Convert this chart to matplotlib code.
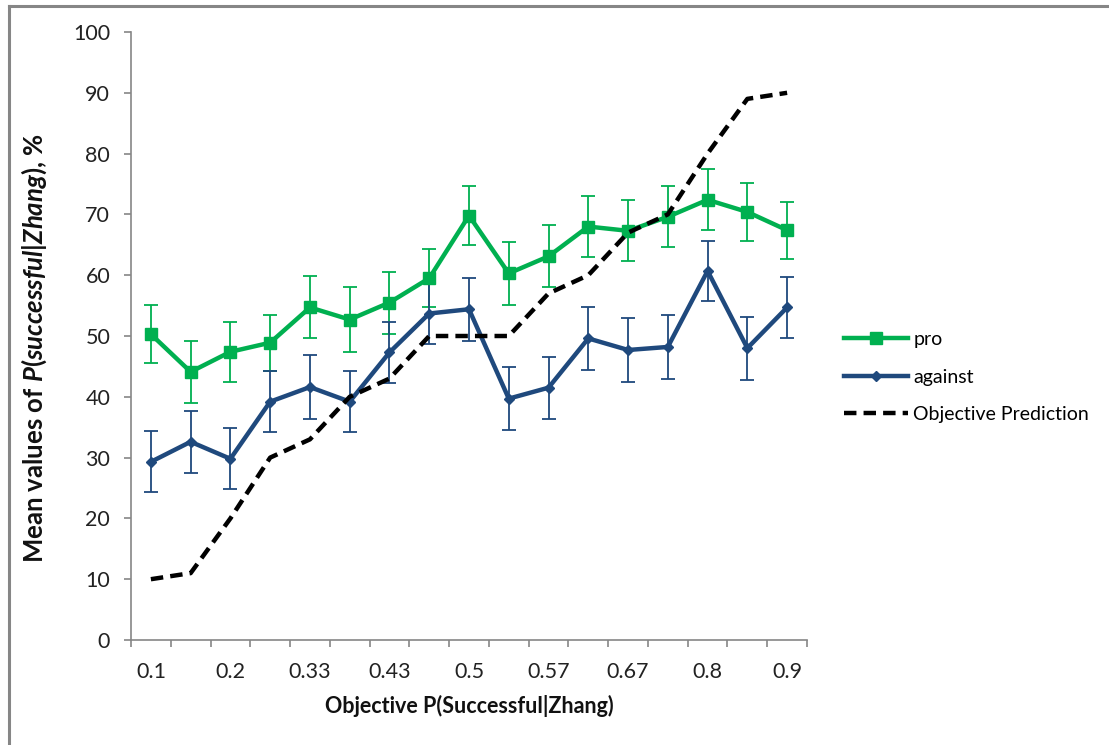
import matplotlib
matplotlib.use("Agg")
import matplotlib.pyplot as plt
from matplotlib.lines import Line2D
import numpy as np

plt.rcParams['font.family'] = ['Lato', 'DejaVu Sans']
plt.rcParams['mathtext.fontset'] = 'custom'
plt.rcParams['mathtext.rm'] = 'Lato:bold'
plt.rcParams['mathtext.it'] = 'Lato:italic:bold'
plt.rcParams['mathtext.bf'] = 'Lato:bold'

# objective probabilities (categories), only every other one is labelled
categories = ['0.1', '0.11', '0.2', '0.3', '0.33', '0.4', '0.43', '0.5', '0.5',
              '0.5', '0.57', '0.6', '0.67', '0.7', '0.8', '0.89', '0.9']

pro = [50.3, 44.1, 47.4, 48.9, 54.7, 52.7, 55.5, 59.5, 69.8, 60.3, 63.1,
       68.0, 67.3, 69.6, 72.4, 70.4, 67.4]
pro_err = [4.8, 5.1, 4.9, 4.6, 5.1, 5.3, 5.1, 4.8, 4.9, 5.2, 5.1,
           5.05, 5.0, 5.0, 5.0, 4.7, 4.7]

against = [29.3, 32.6, 29.8, 39.2, 41.6, 39.2, 47.3, 53.7, 54.4, 39.7, 41.5,
           49.6, 47.7, 48.2, 60.7, 48.0, 54.7]
against_err = [5.0, 5.1, 5.0, 5.0, 5.2, 5.0, 5.0, 5.0, 5.2, 5.2, 5.1,
               5.2, 5.2, 5.2, 5.0, 5.2, 5.0]

objective = [10, 11, 20, 30, 33, 40, 43, 50, 50, 50, 57, 60, 67, 70, 80, 89, 90]

green = '#00B050'
blue = '#1F497D'
grey = '#868686'

fig = plt.figure(figsize=(11.09, 7.45), dpi=100)
ax = fig.add_axes([131/1109, 1 - 640/745, (807-131)/1109, (640-32)/745])

x = np.arange(len(categories))

ax.errorbar(x, pro, yerr=pro_err, color=green, lw=3.2, marker='s', ms=8,
            elinewidth=1.3, capsize=5, capthick=1.3, label='pro', zorder=3)
ax.errorbar(x, against, yerr=against_err, color=blue, lw=3.2, marker='D', ms=5,
            elinewidth=1.3, capsize=5, capthick=1.3, label='against', zorder=3)
ax.plot(x, objective, color='black', lw=3.2, dashes=(2.8, 1.6),
        label='Objective Prediction', zorder=4)

ax.set_xlim(-0.5, len(categories) - 0.5)
ax.set_ylim(0, 100)
ax.set_yticks(range(0, 101, 10))

ax.set_xticks(x[::2])
ax.set_xticklabels(categories[::2])
ax.set_xticks(np.arange(-0.5, len(categories), 1), minor=True)
ax.tick_params(axis='x', which='major', length=0, pad=16, labelsize=15.5,
               labelcolor='#222222')
ax.tick_params(axis='x', which='minor', length=5, width=1.2, color=grey)
ax.tick_params(axis='y', length=5, width=1.2, color=grey, pad=10,
               labelsize=15.5, labelcolor='#222222')

for s in ['top', 'right']:
    ax.spines[s].set_visible(False)
for s in ['left', 'bottom']:
    ax.spines[s].set_color(grey)
    ax.spines[s].set_linewidth(1.2)

fig.text(469/1109, 1 - 706/745, 'Objective P(Successful|Zhang)', ha='center',
         va='center', fontsize=15.5, fontweight='bold', color='#111111')
fig.text(34/1109, 1 - 348/745, r'Mean values of $P(successful|Zhang)$, %',
         ha='center', va='center', rotation=90, fontsize=18.5,
         fontweight='bold', color='#111111')

handles = [Line2D([], [], color=green, lw=3.2, marker='s', ms=8),
           Line2D([], [], color=blue, lw=3.2, marker='D', ms=5),
           Line2D([], [], color='black', lw=3.2, dashes=(2.8, 1.6))]
fig.legend(handles, ['pro', 'against', 'Objective Prediction'],
           loc='center left', bbox_to_anchor=(844/1109, 1 - 377/745),
           frameon=False, fontsize=14, handlelength=3.3, handletextpad=0.26,
           labelspacing=1.06, borderpad=0, borderaxespad=0)

# chart area border (only top and left visible)
fig.add_artist(Line2D([9/1109, 9/1109], [0, 1 - 6/745], color=grey, lw=2.2,
                      transform=fig.transFigure))
fig.add_artist(Line2D([9/1109, 1], [1 - 6/745, 1 - 6/745], color=grey, lw=2.2,
                      transform=fig.transFigure))

fig.savefig('out.png', dpi=100)
